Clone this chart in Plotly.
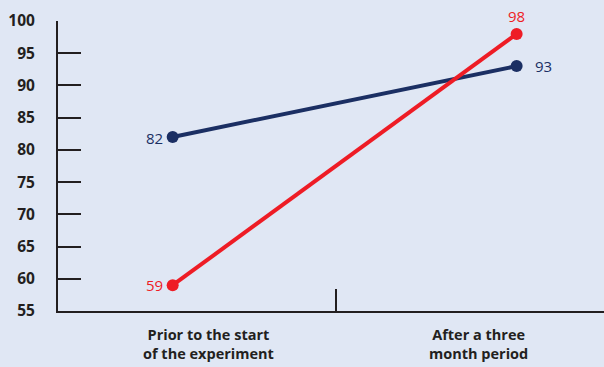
import plotly.graph_objects as go

# Data
categories = ["Prior to the start<br>of the experiment", "After a three<br>month period"]
series_blue = [82, 93]
series_red = [59, 98]
y_ticks = [55, 60, 65, 70, 75, 80, 85, 90, 95, 100]

# layout positions on a numeric x axis
point_x = [0.42, 1.68]
label_x = [0.55, 1.54]
boundary_x = 1.02

BG = "#e0e7f4"
DARK = "#231f20"
BLUE = "#1b2f63"
RED = "#ee1c25"
FONT = "Open Sans"

fig = go.Figure()
fig.add_trace(go.Scatter(
    x=point_x, y=series_blue, mode="lines+markers",
    line=dict(color=BLUE, width=4), marker=dict(color=BLUE, size=12),
    cliponaxis=False, showlegend=False,
))
fig.add_trace(go.Scatter(
    x=point_x, y=series_red, mode="lines+markers",
    line=dict(color=RED, width=4), marker=dict(color=RED, size=12),
    cliponaxis=False, showlegend=False,
))

# value labels
label_offsets = {
    "blue": [dict(xanchor="right", xshift=-8, yshift=-1), dict(xanchor="left", xshift=16, yshift=0)],
    "red": [dict(xanchor="right", xshift=-8, yshift=0), dict(xanchor="center", xshift=0, yshift=18)],
}
for name, vals, col in (("blue", series_blue, BLUE), ("red", series_red, RED)):
    for px, v, off in zip(point_x, vals, label_offsets[name]):
        fig.add_annotation(
            x=px, y=v, xref="x", yref="y", text=str(v), showarrow=False,
            font=dict(family=FONT, size=15, color=col), **off,
        )

for cx, lab in zip(label_x, categories):
    fig.add_annotation(
        x=cx, y=0, xref="x", yref="paper", yanchor="top", yshift=-12,
        text=lab, showarrow=False,
        font=dict(family=FONT, size=14.5, color=DARK, weight="bold"),
        align="center",
    )

fig.update_layout(
    width=604, height=367,
    margin=dict(l=58, r=0, t=21, b=56),
    paper_bgcolor=BG, plot_bgcolor=BG,
    xaxis=dict(
        range=[0, 2], showgrid=False, zeroline=False,
        showline=True, linecolor=DARK, linewidth=2,
        tickvals=[boundary_x], ticktext=[""], ticks="inside",
        ticklen=22, tickwidth=2, tickcolor=DARK,
    ),
    yaxis=dict(
        range=[55, 100], showgrid=False, zeroline=False,
        showline=True, linecolor=DARK, linewidth=2,
        tickvals=y_ticks, ticks="inside", ticklen=23, tickwidth=2,
        tickcolor=DARK, ticklabelstandoff=18,
        tickfont=dict(family=FONT, size=15.5, color=DARK, weight="bold"),
    ),
)

fig.write_html("out.html")
